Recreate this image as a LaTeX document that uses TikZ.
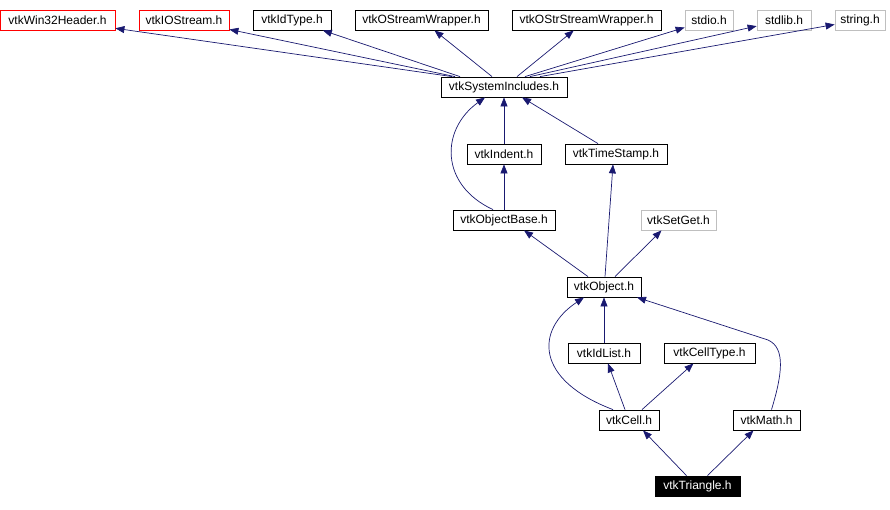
\documentclass[tikz,border=0pt]{standalone}
\usepackage{fontspec}
\setmainfont{Liberation Sans}
\usepackage{tikz}
\usetikzlibrary{arrows.meta,calc,positioning}
\definecolor{edgeblue}{RGB}{25,25,112}
\definecolor{boxgray}{RGB}{191,191,191}

\begin{document}
\begin{tikzpicture}[x=1pt,y=-1pt]
\tikzset{>={Triangle[length=9pt,width=7pt]},
  hdr/.style={draw=black, line width=0.8pt, minimum height=20pt, inner sep=0pt,
    font=\fontsize{12}{14}\selectfont},
  hdrred/.style={hdr, draw=red},
  hdrgray/.style={hdr, draw=boxgray},
  hdrcur/.style={hdr, fill=black, text=white},
  dep/.style={->, draw=edgeblue, line width=0.7pt}}
  \useasboundingbox (0,0) rectangle (890,509);

  % top row
  \node[hdrred, minimum width=115pt] (win32) at (57.5,20) {vtkWin32Header.h};
  \node[hdrred, minimum width=90pt] (iostream) at (184,20) {vtkIOStream.h};
  \node[hdr, minimum width=78pt] (idtype) at (292,20) {vtkIdType.h};
  \node[hdr, minimum width=133pt] (ostream) at (421.5,20) {vtkOStreamWrapper.h};
  \node[hdr, minimum width=149pt] (ostrstream) at (586.5,20) {vtkOStrStreamWrapper.h};
  \node[hdrgray, minimum width=48pt] (stdio) at (709,20) {stdio.h};
  \node[hdrgray, minimum width=54pt] (stdlib) at (784,20) {stdlib.h};
  \node[hdrgray, minimum width=50pt] (string) at (860,20) {string.h};

  \node[hdr, minimum width=126pt] (sysinc) at (504,87) {vtkSystemIncludes.h};
  \node[hdr, minimum width=74pt] (indent) at (504,154) {vtkIndent.h};
  \node[hdr, minimum width=102pt] (tstamp) at (616,154) {vtkTimeStamp.h};
  \node[hdr, minimum width=102pt] (objbase) at (504,220) {vtkObjectBase.h};
  \node[hdrgray, minimum width=75pt] (setget) at (678.5,220) {vtkSetGet.h};
  \node[hdr, minimum width=74pt] (obj) at (604,287) {vtkObject.h};
  \node[hdr, minimum width=72pt] (idlist) at (604,353) {vtkIdList.h};
  \node[hdr, minimum width=91pt] (celltype) at (709.5,353) {vtkCellType.h};
  \node[hdr, minimum width=60pt] (cell) at (629,420) {vtkCell.h};
  \node[hdr, minimum width=67pt] (math) at (766.5,420) {vtkMath.h};
  \node[hdrcur, minimum width=85pt] (tri) at (697.5,486) {vtkTriangle.h};

  % includes of vtkSystemIncludes.h
  \draw[dep] ([xshift=-52pt]sysinc.north) -- (win32);
  \draw[dep] ([xshift=-49pt]sysinc.north) -- (iostream);
  \draw[dep] ([xshift=-44pt]sysinc.north) -- (idtype);
  \draw[dep] ([xshift=-12pt]sysinc.north) -- (ostream);
  \draw[dep] ([xshift=13pt]sysinc.north) -- (ostrstream);
  \draw[dep] ([xshift=21pt]sysinc.north) -- (stdio);
  \draw[dep] ([xshift=26pt]sysinc.north) -- (stdlib);
  \draw[dep] ([xshift=36pt]sysinc.north) -- (string);

  \draw[dep] (indent) -- (sysinc);
  \draw[dep] ([xshift=-18pt]tstamp.north) -- ([xshift=18pt]sysinc.south);
  \draw[dep] ([xshift=-11pt]objbase.north) .. controls (440,185) and (440,130)
    .. ([xshift=-19pt]sysinc.south);
  \draw[dep] (objbase) -- (indent);

  \draw[dep] ([xshift=-16pt]obj.north) -- ([xshift=20pt]objbase.south);
  \draw[dep] ([xshift=1pt]obj.north) -- ([xshift=-3pt]tstamp.south);
  \draw[dep] ([xshift=11pt]obj.north) -- ([xshift=-17pt]setget.south);

  \draw[dep] (idlist) -- (obj);
  \draw[dep] ([xshift=-16pt]cell.north) .. controls (535,380) and (535,330)
    .. ([xshift=-20pt]obj.south);
  \draw[dep] ([xshift=-4pt]cell.north) -- ([xshift=4pt]idlist.south);
  \draw[dep] ([xshift=13pt]cell.north) -- ([xshift=-16pt]celltype.south);
  \draw[dep] ([xshift=5pt]math.north) .. controls (782,375) and (786,348)
    .. (768,340) -- ([xshift=33pt]obj.south);

  \draw[dep] ([xshift=-11pt]tri.north) -- ([xshift=14pt]cell.south);
  \draw[dep] ([xshift=10pt]tri.north) -- ([xshift=-13pt]math.south);
\end{tikzpicture}
\end{document}
